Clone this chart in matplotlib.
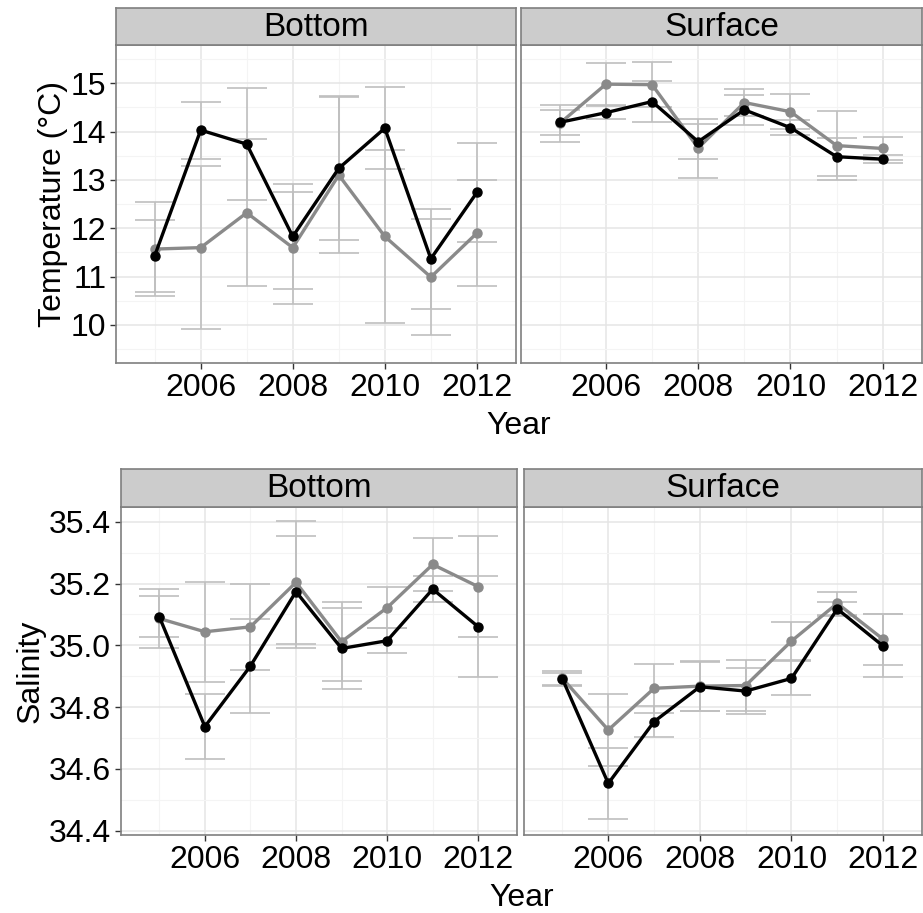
import matplotlib
matplotlib.use("Agg")
import matplotlib.pyplot as plt

plt.rcParams['font.family'] = ['Liberation Sans', 'DejaVu Sans']

years = [2005, 2006, 2007, 2008, 2009, 2010, 2011, 2012]

temp_bottom_a = [11.43, 14.03, 13.74, 11.83, 13.24, 14.07, 11.37, 12.74]
temp_bottom_a_err = [0.74, 0.59, 1.16, 1.08, 1.49, 0.85, 1.03, 1.02]
temp_bottom_b = [11.57, 11.60, 12.32, 11.60, 13.10, 11.83, 10.99, 11.90]
temp_bottom_b_err = [0.98, 1.69, 1.52, 1.16, 1.61, 1.79, 1.20, 1.10]

temp_surface_a = [14.19, 14.39, 14.62, 13.79, 14.45, 14.08, 13.48, 13.43]
temp_surface_a_err = [0.26, 0.14, 0.43, 0.36, 0.31, 0.16, 0.39, 0.08]
temp_surface_b = [14.17, 14.98, 14.97, 13.66, 14.60, 14.41, 13.71, 13.65]
temp_surface_b_err = [0.38, 0.43, 0.47, 0.61, 0.27, 0.36, 0.72, 0.23]

sal_bottom_a = [35.093, 34.737, 34.933, 35.174, 34.990, 35.015, 35.182, 35.060]
sal_bottom_a_err = [0.067, 0.106, 0.153, 0.181, 0.132, 0.041, 0.041, 0.164]
sal_bottom_b = [35.087, 35.044, 35.060, 35.204, 35.012, 35.122, 35.262, 35.190]
sal_bottom_b_err = [0.096, 0.161, 0.140, 0.198, 0.128, 0.066, 0.086, 0.164]

sal_surface_a = [34.891, 34.553, 34.753, 34.866, 34.852, 34.893, 35.118, 34.998]
sal_surface_a_err = [0.020, 0.116, 0.050, 0.080, 0.075, 0.055, 0.024, 0.102]
sal_surface_b = [34.893, 34.726, 34.861, 34.868, 34.870, 35.014, 35.136, 35.020]
sal_surface_b_err = [0.025, 0.117, 0.079, 0.080, 0.082, 0.063, 0.038, 0.082]

x_major = [2006, 2008, 2010, 2012]
x_minor = [2005, 2007, 2009, 2011]
temp_ticks = [10, 11, 12, 13, 14, 15]
temp_minor = [9.5, 10.5, 11.5, 12.5, 13.5, 14.5, 15.5]
sal_ticks = [34.4, 34.6, 34.8, 35.0, 35.2, 35.4]
sal_minor = [34.5, 34.7, 34.9, 35.1, 35.3]

W, H = 923, 913
fig = plt.figure(figsize=(W / 100, H / 100), dpi=100)

ERR = '#BFBFBF'
GREY = '#8A8A8A'
BORDER = '#7F7F7F'


def px_axes(x0, y0, x1, y1):
    return fig.add_axes([x0 / W, 1 - y1 / H, (x1 - x0) / W, (y1 - y0) / H])


def strip(x0, y0, x1, y1, label):
    s = px_axes(x0, y0, x1, y1)
    s.set_facecolor('#CCCCCC')
    s.set_xticks([])
    s.set_yticks([])
    for sp in s.spines.values():
        sp.set_color(BORDER)
        sp.set_linewidth(1.2)
    s.text(0.5, 0.48, label, ha='center', va='center', fontsize=24,
           transform=s.transAxes)


def panel(ax, a, a_err, b, b_err, ylim, yticks, yminor, show_y):
    for vals, err in ((a, a_err), (b, b_err)):
        ax.errorbar(years, vals, yerr=err, fmt='none', ecolor=ERR,
                    elinewidth=1.2, capsize=14.4, capthick=1.2, zorder=2)
    ax.plot(years, b, color=GREY, lw=2.4, marker='o', ms=6.5, zorder=3)
    ax.plot(years, a, color='black', lw=2.4, marker='o', ms=6.5, zorder=4)
    ax.set_xlim(2004.16, 2012.85)
    ax.set_ylim(*ylim)
    ax.set_xticks(x_major)
    ax.set_xticks(x_minor, minor=True)
    ax.set_yticks(yticks)
    ax.set_yticks(yminor, minor=True)
    ax.grid(which='major', color='#E5E5E5', lw=1.1)
    ax.grid(which='minor', color='#F4F4F4', lw=0.8)
    ax.set_axisbelow(True)
    for sp in ax.spines.values():
        sp.set_color(BORDER)
        sp.set_linewidth(1.2)
    ax.tick_params(which='major', length=4.5, width=1, color='#333333',
                   labelsize=23, pad=2.5)
    ax.tick_params(which='minor', length=0)
    if not show_y:
        ax.tick_params(axis='y', which='both', length=0, labelleft=False)


# Температура
ax1 = px_axes(116, 45, 516, 363)
panel(ax1, temp_bottom_a, temp_bottom_a_err, temp_bottom_b, temp_bottom_b_err,
      (9.214, 15.79), temp_ticks, temp_minor, True)
ax1.set_ylabel('Temperature (°C)', fontsize=23)
ax1.yaxis.set_label_coords(-0.12, 0.5)
strip(116, 8, 516, 45, 'Bottom')

ax2 = px_axes(521, 45, 922, 363)
panel(ax2, temp_surface_a, temp_surface_a_err, temp_surface_b, temp_surface_b_err,
      (9.214, 15.79), temp_ticks, temp_minor, False)
strip(521, 8, 922, 45, 'Surface')
fig.text(519 / W, 1 - 426 / H, 'Year', ha='center', va='center', fontsize=23)

# Солёность
ax3 = px_axes(121, 507, 517, 835)
panel(ax3, sal_bottom_a, sal_bottom_a_err, sal_bottom_b, sal_bottom_b_err,
      (34.386, 35.448), sal_ticks, sal_minor, True)
ax3.set_yticklabels([f'{v:.1f}' for v in sal_ticks])
ax3.set_ylabel('Salinity', fontsize=23)
ax3.yaxis.set_label_coords(-0.19, 0.5)
strip(121, 469, 517, 507, 'Bottom')

ax4 = px_axes(524, 507, 922, 835)
panel(ax4, sal_surface_a, sal_surface_a_err, sal_surface_b, sal_surface_b_err,
      (34.386, 35.448), sal_ticks, sal_minor, False)
strip(524, 469, 922, 507, 'Surface')
fig.text(522 / W, 1 - 898 / H, 'Year', ha='center', va='center', fontsize=23)

fig.savefig('out.png', dpi=100)
